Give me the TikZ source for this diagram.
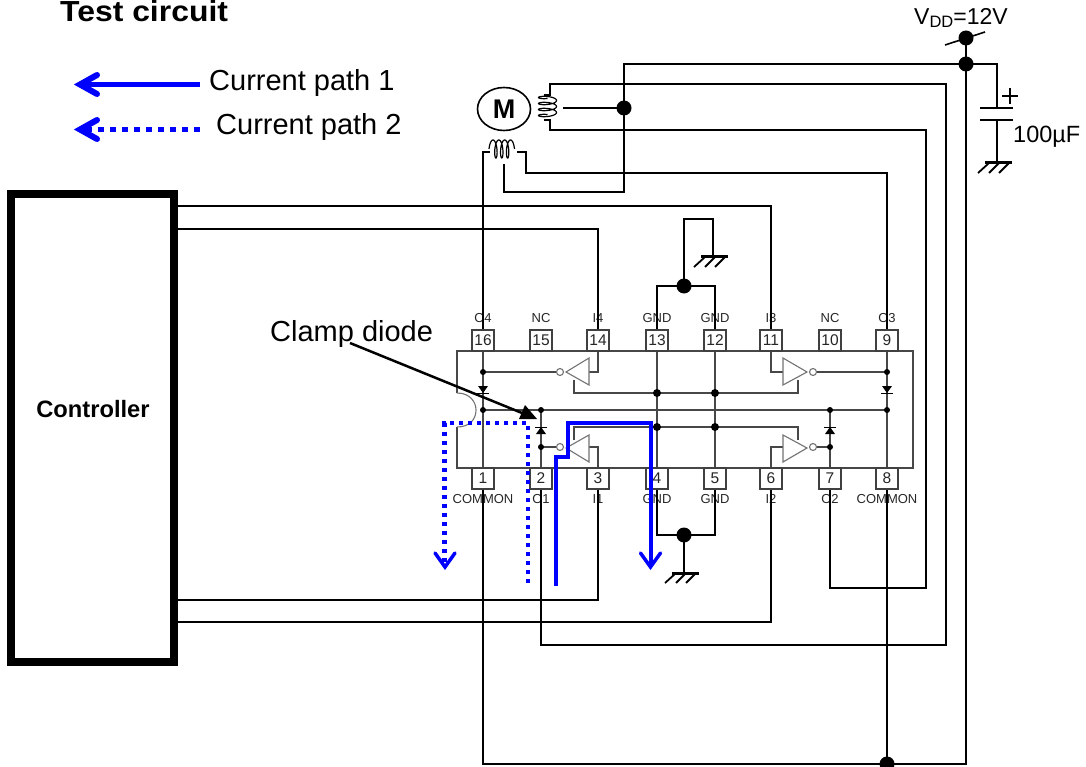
\documentclass[tikz,border=0pt]{standalone}
\usepackage{fontspec}
\usetikzlibrary{shapes.geometric}
\setmainfont{Liberation Sans}
\tikzset{
  wire/.style={line width=1.8pt,black,line join=miter},
  ic/.style={line width=1.1pt,black!72},
  gate/.style={line width=1.1pt,black!55},
  dot/.style={circle,fill=black,inner sep=0pt,minimum size=#1},
  dot/.default=7pt,
  pinbox/.style={draw=black!75,line width=1.1pt,fill=white,minimum width=22pt,minimum height=21pt,inner sep=0pt,font=\fontsize{15.5}{15.5}\selectfont,text=black!85},
  pinlabel/.style={font=\fontsize{13}{13}\selectfont,text=black!85,inner sep=0pt},
  big/.style={font=\fontsize{29}{29}\selectfont,inner sep=0pt,anchor=base west},
  pathsolid/.style={blue,line width=4pt,line join=miter},
  pathdot/.style={blue,line width=4.5pt,dash pattern=on 4.5pt off 4.5pt},
  headblue/.style={blue,line width=#1,line cap=round,line join=miter},
  bubble/.style={circle,draw=black!55,line width=1.1pt,fill=white,minimum size=7pt,inner sep=0pt},
  earth/.style={line width=3pt}
}
\newcommand{\myground}[2]{%
  \draw[earth] (#1-12,#2) -- (#1+15,#2);
  \draw[line width=1.8pt] (#1-8,#2) -- (#1-19,#2+10) (#1+2,#2) -- (#1-8,#2+10) (#1+12,#2) -- (#1+2,#2+10);
}
\begin{document}
\begin{tikzpicture}[x=1pt,y=-1pt]
\useasboundingbox (0,0) rectangle (1086,767);
% package
\draw[ic] (457,393) -- (457,351) -- (913,351) -- (913,468) -- (457,468) -- (457,427);
\draw[gate] (457,393) .. controls (470,393) and (476,402) .. (476,410) .. controls (476,419) and (470,427) .. (457,427);
% internal lines
\draw[ic] (483,351) -- (483,468);
\draw[ic] (887,351) -- (887,468);
\draw[ic] (657,351) -- (657,468);
\draw[ic] (715,351) -- (715,468);
\draw[ic] (541,410) -- (541,468);
\draw[ic] (830,410) -- (830,468);
\draw[ic] (483,410) -- (887,410);
\draw[ic] (483,372) -- (556,372);
\draw[ic] (817,372) -- (887,372);
\draw[ic] (574,380) -- (574,393) -- (798,393) -- (798,380);
\draw[ic] (574,440) -- (574,427) -- (798,427) -- (798,440);
\draw[ic] (541,447) -- (556,447);
\draw[ic] (817,447) -- (830,447);
\draw[ic] (589,372) -- (598,372) -- (598,351);
\draw[ic] (783,372) -- (771,372) -- (771,351);
\draw[ic] (589,447) -- (598,447) -- (598,468);
\draw[ic] (783,447) -- (771,447) -- (771,468);
% inverters
\draw[gate,fill=white] (589,358) -- (589,385) -- (566,372) -- cycle;
\draw[gate,fill=white] (783,358) -- (783,385) -- (807,372) -- cycle;
\draw[gate,fill=white] (589,435) -- (589,462) -- (566,448) -- cycle;
\draw[gate,fill=white] (783,435) -- (783,462) -- (807,448) -- cycle;
\node[bubble] (b14) at (560,372) {};
\node[bubble] (b11) at (813,372) {};
\node[bubble] (b3) at (560,447) {};
\node[bubble] (b6) at (813,447) {};
% diodes
\fill (478,386) -- (488,386) -- (483,393) -- cycle;
\draw[line width=1pt] (477,393) -- (489,393);
\fill (882,386) -- (892,386) -- (887,393) -- cycle;
\draw[line width=1pt] (881,393) -- (893,393);
\fill (536,434) -- (546,434) -- (541,427) -- cycle;
\draw[line width=1pt] (535,427) -- (547,427);
\fill (825,434) -- (835,434) -- (830,427) -- cycle;
\draw[line width=1pt] (824,427) -- (836,427);
% internal dots
\foreach \n/\x/\y/\s in {a/483/372/6pt,b/483/410/6pt,c/541/410/6pt,d/541/447/6pt,e/830/410/6pt,f/830/447/6pt,g/887/372/6pt,h/887/410/6pt,i/657/393/8pt,k/715/393/8pt,l/657/427/8pt,m/715/427/8pt}
  \node[dot=\s] (i\n) at (\x,\y) {};
% pins
\foreach \n/\x in {16/483,15/541,14/598,13/657,12/715,11/771,10/830,9/887}
  \node[pinbox] (p\n) at (\x,340.5) {\n};
\foreach \n/\x in {1/483,2/541,3/598,4/657,5/715,6/771,7/830,8/887}
  \node[pinbox] (p\n) at (\x,478.5) {\n};
\foreach \t/\x in {O4/483,NC/541,I4/598,GND/657,GND/715,I3/771,NC/830,O3/887}
  \node[pinlabel] at (\x,318) {\t};
\foreach \t/\x in {COMMON/483,O1/541,I1/598,GND/657,GND/715,I2/771,O2/830,COMMON/887}
  \node[pinlabel] at (\x,499) {\t};
% controller
\node[draw=black,line width=8pt,minimum width=162.5pt,minimum height=468.5pt,inner sep=0pt] (ctl) at (92.7,428) {};
\node[font=\bfseries\fontsize{23.7}{24}\selectfont,inner sep=0pt] (ctltext) at (93,409) {Controller};
\coordinate (cr1) at (178,206);
\coordinate (cr2) at (178,229);
\coordinate (cr3) at (178,600);
\coordinate (cr4) at (178,622);
% junctions
\node[dot=15pt] (vdd) at (966,38) {};
\node[dot=15pt] (rail) at (966,64) {};
\node[dot=15pt] (tap) at (624,108) {};
\node[dot=15pt] (gt) at (684,286) {};
\node[dot=15pt] (gb) at (684,535) {};
\node[dot=15pt] (com) at (887,764) {};
% external wires
\draw[wire] (p14.north) |- (cr2);
\draw[wire] (p11.north) |- (cr1);
\draw[wire] (p3.south) |- (cr3);
\draw[wire] (p6.south) |- (cr4);
\draw[wire] (p13.north) |- (gt.center) -| (p12.north);
\draw[wire] (gt.center) -- (684,219) -- (713,219) -- (713,257);
\myground{713}{257}
\draw[wire] (p4.south) |- (gb.center) -| (p5.south);
\draw[wire] (gb.center) -- (684,573);
\myground{684}{573}
\draw[wire] (p1.south) |- (com.center) -| (rail.center);
\draw[wire] (p8.south) -- (com.center);
\draw[wire] (vdd.center) -- (rail.center);
\draw[line width=1.6pt] (945,45) -- (985,32);
\draw[wire] (rail.center) -- (997,64) -- (997,108);
\draw[line width=1.8pt] (980,108) -- (1013,108) (980,120) -- (1013,120);
\draw[wire] (997,120) -- (997,163);
\myground{997}{163}
\draw[line width=1.3pt] (1002,96) -- (1018,96) (1010,88) -- (1010,104);
\draw[wire] (rail.center) -| (624,192) -- (504,192) -- (504,164);
\draw[wire] (p9.north) |- (526,173) -- (526,152) -- (517,152);
\draw[wire] (p16.north) |- (490,152);
\draw[wire] (563,108) -- (tap.center);
\draw[wire] (p2.south) |- (946,645) |- (550,84) -- (550,95) -- (544,95);
\draw[wire] (p7.south) |- (926,588) |- (550,130) -- (550,120) -- (544,120);
% motor
\node[draw=black,line width=1.6pt,ellipse,minimum width=53pt,minimum height=43pt,inner sep=0pt,font=\bfseries\fontsize{27}{27}\selectfont] (motor) at (504,109) {M};
% coils
\draw[line width=1.2pt] plot[smooth,samples=120,domain=0:1260] ({491.5+20.5*(\x/1260)-2.5*cos(\x)},{149-9*sin(\x)});
\draw[line width=1.2pt] plot[smooth,samples=120,domain=0:1260] ({547.5-9*sin(\x)},{96+21*(\x/1260)+2.5*cos(\x)});
% current paths
\draw[pathsolid] (556,586) -- (556,457) -- (568,457) -- (568,423) -- (650.5,423) -- (650.5,564);
\draw[headblue=3.5pt] (640.5,553) -- (650.5,567) -- (660.5,553);
\draw[pathdot] (528,583) -- (528,423) -- (444.5,423) -- (444.5,563);
\draw[headblue=3.5pt] (435,553) -- (445,567) -- (455,553);
% legend
\draw[blue,line width=4.5pt] (200,84.5) -- (80,84.5);
\draw[headblue=6pt] (97,75) -- (80,84.5) -- (97,94);
\draw[blue,line width=5pt,dash pattern=on 6pt off 6pt] (200,129.5) -- (86,129.5);
\draw[headblue=6pt] (97,120) -- (80,129.5) -- (97,139);
% texts
\node[big] (lg1) at (209,91) {Current path 1};
\node[big] (lg2) at (216,135) {Current path 2};
\node[big] (clamp) at (270,341) {Clamp diode};
\node[font=\bfseries\fontsize{29}{29}\selectfont,anchor=base west,inner sep=0pt] (title) at (60,21.5) {\scalebox{1.1}[1]{Test circuit}};
\node[anchor=base west,inner sep=0pt,font=\fontsize{23}{23}\selectfont] (vtext) at (914,25) {V\raisebox{-3pt}{\fontsize{16.5}{16.5}\selectfont DD}=12V};
\node[anchor=base west,inner sep=0pt,font=\fontsize{23.5}{24}\selectfont] (ctext) at (1013,143) {100µF};
% clamp arrow
\coordinate (ca) at (350,343);
\coordinate (cb) at (537,419);
\draw[line width=2.5pt] (ca) -- (522,413);
\fill (cb) -- (519,419) -- (525,405) -- cycle;
\end{tikzpicture}
\end{document}
